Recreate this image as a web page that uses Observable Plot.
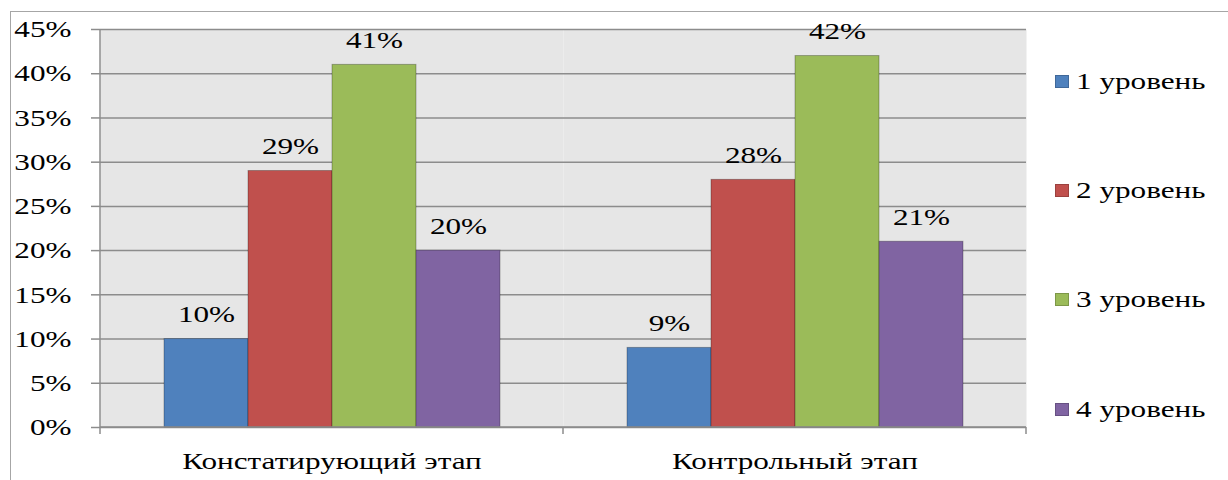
<!DOCTYPE html>
<html><head><meta charset="utf-8">
<script src="https://cdn.jsdelivr.net/npm/d3@7"></script>
<script src="https://cdn.jsdelivr.net/npm/@observablehq/plot@0.6"></script>
<style>
html,body{margin:0;padding:0;background:#fff;}
#wrap{position:relative;width:1228px;height:480px;overflow:hidden;background:#fff;}
#border{position:absolute;left:10px;top:11px;width:1240px;height:480px;border-left:1.5px solid #a6a6a6;border-top:1.5px solid #a6a6a6;}
#chart{position:absolute;left:0;top:0;}
.li{position:absolute;left:1055px;height:30px;display:flex;align-items:center;font-family:"Liberation Serif";font-size:24px;color:#000;white-space:nowrap;}
.sw{width:14px;height:13px;margin-right:7px;box-sizing:border-box;}
.lt{display:inline-block;transform:scaleX(1.3);transform-origin:left center;}
</style>
</head><body>
<div id="wrap"><div id="border"></div><div id="chart"></div></div>
<script>
const stages = ["Констатирующий этап", "Контрольный этап"];
const levels = ["1 уровень", "2 уровень", "3 уровень", "4 уровень"];
const stage1Values = [10, 29, 41, 20];
const stage2Values = [9, 28, 42, 21];
const colors = ["#4f81bd", "#c0504d", "#9bbb59", "#8064a2"];
const yTicks = [0, 5, 10, 15, 20, 25, 30, 35, 40, 45];

const seriesByStage = [stage1Values, stage2Values];
const data = [];
stages.forEach((s, si) => levels.forEach((l, li) => data.push({stage: s, level: l, value: seriesByStage[si][li]})));

const plot = Plot.plot({
  width: 1228, height: 480,
  marginLeft: 100, marginRight: 202, marginTop: 29, marginBottom: 53,
  style: {fontFamily: "Liberation Serif", fontSize: "24px", color: "#000", background: "transparent", overflow: "visible"},
  fx: {domain: stages, padding: 0, label: null},
  x: {domain: levels, paddingInner: 0, paddingOuter: 0.75, axis: null},
  y: {domain: [0, 45], label: null},
  color: {domain: levels, range: colors},
  marks: [
    Plot.frame({fill: "#e6e6e6", stroke: null}),
    Plot.gridY(yTicks, {stroke: "#8c8c8c", strokeOpacity: 1, strokeWidth: 1.5}),
    Plot.axisY(yTicks, {tickSize: 9, tickFormat: () => "", stroke: "#8c8c8c", strokeWidth: 1.5, label: null}),
    Plot.axisY(yTicks, {tickSize: 0, tickPadding: 29, tickFormat: d => d + "%", fill: "#000", label: null}),
    Plot.axisFx({anchor: "bottom", tickSize: 0, tickPadding: 24, fill: "#000", label: null}),
    Plot.barY(data, {fx: "stage", x: "level", y: "value", fill: "level", stroke: "#000", strokeOpacity: 0.28, strokeWidth: 1}),
    Plot.text(data, {fx: "stage", x: "level", y: "value", text: d => d.value + "%", lineAnchor: "bottom", dy: -17, fill: "#000"})
  ]
});

// stretch text horizontally to match the reference's wide glyphs
plot.querySelectorAll("text").forEach(t => {
  const tr = t.getAttribute("transform") || "";
  t.setAttribute("transform", tr + " scale(1.3,1)");
});

// axis lines and category separators
const fx = plot.scale("fx"), ys = plot.scale("y");
const y0 = ys.apply(0), yTop = ys.apply(45);
const g = d3.select(plot).append("g").attr("stroke", "#8c8c8c").attr("stroke-width", 1.5);
const left = fx.apply(stages[0]);
g.append("line").attr("x1", left).attr("x2", left).attr("y1", yTop).attr("y2", y0 + 7);
g.append("line").attr("x1", left).attr("x2", fx.apply(stages[stages.length - 1]) + fx.bandwidth).attr("y1", y0).attr("y2", y0);
stages.forEach(s => {
  const xr = fx.apply(s) + fx.bandwidth;
  g.append("line").attr("x1", xr).attr("x2", xr).attr("y1", y0).attr("y2", y0 + 7);
});

document.getElementById("chart").appendChild(plot);

// legend
const legendY = [81, 190, 299, 409];
const wrap = document.getElementById("wrap");
levels.forEach((l, i) => {
  const d = document.createElement("div");
  d.className = "li";
  d.style.top = (legendY[i] - 15) + "px";
  const sw = document.createElement("span");
  sw.className = "sw";
  sw.style.background = colors[i];
  sw.style.border = "1px solid " + d3.color(colors[i]).darker(0.6);
  const t = document.createElement("span");
  t.className = "lt";
  t.textContent = l;
  d.appendChild(sw); d.appendChild(t);
  wrap.appendChild(d);
});
</script>
</body></html>
